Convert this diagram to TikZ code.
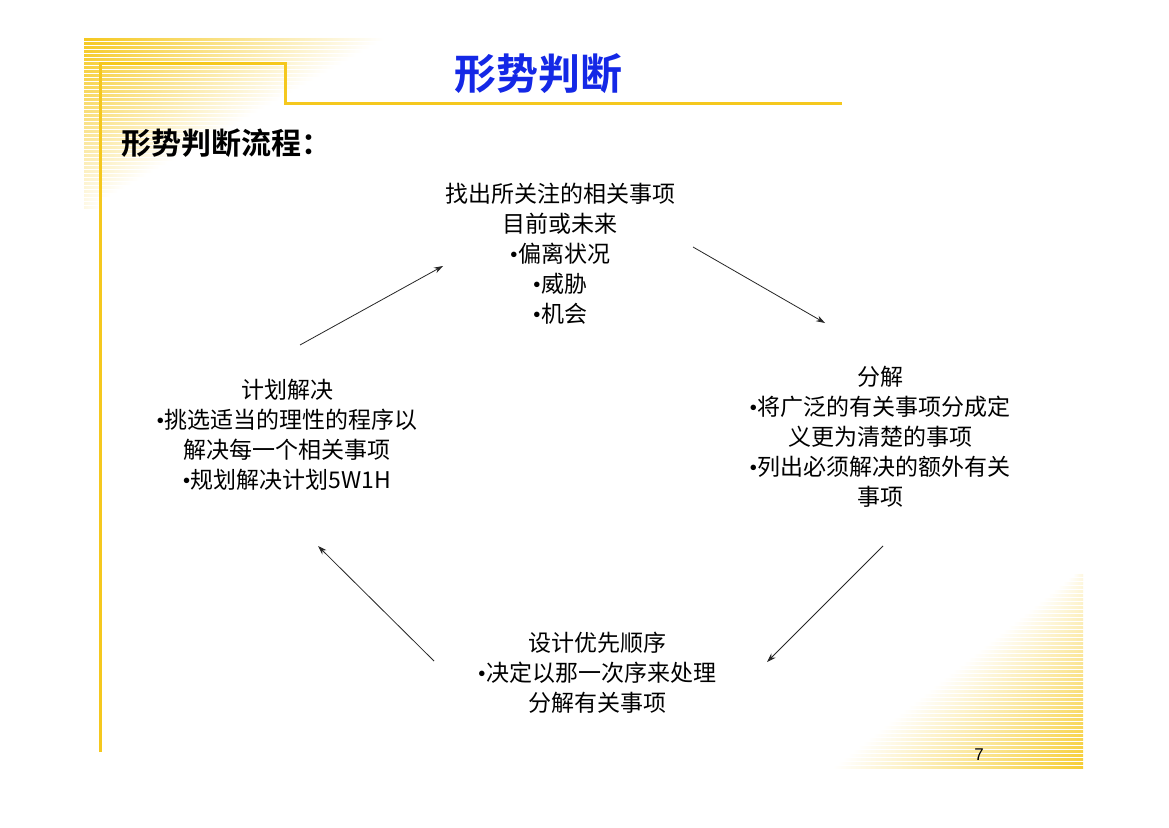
\documentclass[tikz,border=0pt]{standalone}
\usepackage{fontspec}
\setmainfont{Liberation Serif}
\newfontfamily\cjk{Noto Sans CJK SC}
\newfontfamily\cjkb{Noto Sans CJK SC Bold}
\newcommand{\bul}{{\fontspec{Liberation Serif}•}}
\usetikzlibrary{arrows.meta}
\definecolor{gold}{RGB}{245,200,30}
\definecolor{ttl}{RGB}{20,40,230}
\tikzset{
  txt/.style={align=center,font=\cjk\fontsize{23}{30}\selectfont,text=black,inner sep=0pt},
  arr/.style={-{Stealth[length=9pt,width=6pt]},line width=0.8pt,draw=black!85}
}
\begin{document}
\begin{tikzpicture}[x=1pt,y=-1pt]
\fill[white] (0,0) rectangle (1169,827);
\useasboundingbox (0,0) rectangle (1169,827);
% top-left stripes
\foreach \i in {0,...,42}{
  \pgfmathsetmacro\yy{38+4*\i}
  \pgfmathsetmacro\ll{max(18,300-7*\i)}
  \pgfmathtruncatemacro\op{max(12,100-2.2*\i)}
  \shade[left color=gold!\op!white, right color=white] (84,\yy) rectangle (84+\ll,\yy+2.2);
}
% bottom-right stripes
\foreach \i in {0,...,48}{
  \pgfmathsetmacro\yy{766-4*\i}
  \pgfmathsetmacro\ll{max(10,250-5*\i)}
  \pgfmathtruncatemacro\op{max(15,90-1.6*\i)}
  \shade[right color=gold!\op!white, left color=white] (1083-\ll,\yy) rectangle (1083,\yy+2.2);
}
% gold frame lines
\draw[gold,line width=3pt] (100,752) -- (100,63) -- (285,63) -- (285,103) -- (842,103);
\node[font=\cjkb\fontsize{42}{44}\selectfont,text=ttl] (title) at (538,74) {形势判断};
\node[font=\cjkb\fontsize{30}{32}\selectfont,anchor=west] (sub) at (118,143) {形势判断流程：};
\node[txt] (top) at (560,254) {找出所关注的相关事项\\目前或未来\\\bul 偏离状况\\\bul 威胁\\\bul 机会};
\node[txt] (right) at (880,437) {分解\\\bul 将广泛的有关事项分成定\\义更为清楚的事项\\\bul 列出必须解决的额外有关\\事项};
\node[txt] (bottom) at (597,673) {设计优先顺序\\\bul 决定以那一次序来处理\\分解有关事项};
\node[txt] (left) at (287,435) {计划解决\\\bul 挑选适当的理性的程序以\\解决每一个相关事项\\\bul 规划解决计划5W1H};
\coordinate (a1) at (300,345); \coordinate (a2) at (443,266);
\coordinate (b1) at (693,247); \coordinate (b2) at (825,323);
\coordinate (c1) at (883,546); \coordinate (c2) at (767,662);
\coordinate (d1) at (434,661); \coordinate (d2) at (318,546);
\draw[arr] (a1) -- (a2);
\draw[arr] (b1) -- (b2);
\draw[arr] (c1) -- (c2);
\draw[arr] (d1) -- (d2);
\node[font=\fontspec{Liberation Sans}\fontsize{17}{18}\selectfont] (pg) at (979,755) {7};
\end{tikzpicture}
\end{document}
